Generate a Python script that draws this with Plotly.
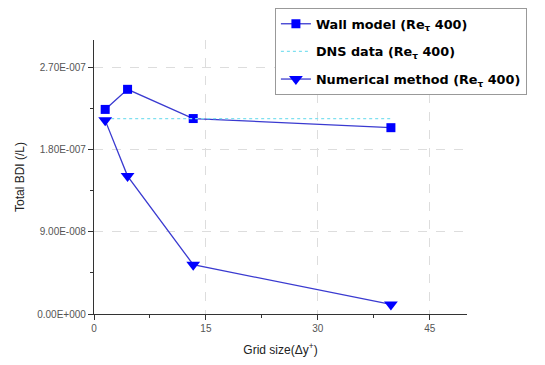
import plotly.graph_objects as go

grid_x = [1.5, 4.5, 13.3, 39.8]
wall_model = [2.24e-7, 2.46e-7, 2.14e-7, 2.04e-7]
numerical = [2.12e-7, 1.51e-7, 5.4e-8, 1.05e-8]
dns_x = [1.5, 39.8]
dns_y = [2.14e-7, 2.14e-7]

y_ticks = [0, 9e-8, 1.8e-7, 2.7e-7]
y_ticktext = ["0.00E+000", "9.00E-008", "1.80E-007", "2.70E-007"]
x_ticks = [0, 15, 30, 45]

fig = go.Figure()
fig.add_trace(go.Scatter(x=grid_x, y=wall_model, mode="lines+markers",
                         name="<b>Wall model (Re<sub>τ</sub> 400)</b>", legendgroup="a",
                         line=dict(color="#3a3ad0", width=1.3),
                         marker=dict(symbol="square", size=9, color="#0000ff")))
fig.add_trace(go.Scatter(x=dns_x, y=dns_y, mode="lines",
                         name="<b>DNS data (Re<sub>τ</sub> 400)</b>", legendgroup="b",
                         line=dict(color="#7fe0f0", width=1.2, dash="dot")))
fig.add_trace(go.Scatter(x=grid_x, y=numerical, mode="lines+markers",
                         name="<b>Numerical method (Re<sub>τ</sub> 400)</b>", legendgroup="c",
                         line=dict(color="#3a3ad0", width=1.3),
                         marker=dict(symbol="triangle-down", size=12, color="#0000ff")))

axis_common = dict(showline=True, linecolor="#333", linewidth=1.2, ticks="outside",
                   ticklen=5, tickcolor="#333", showgrid=True, gridcolor="#dddddd",
                   griddash="dash", gridwidth=1, zeroline=False, mirror=False,
                   tickfont=dict(family="Liberation Sans, Arial", size=10, color="#555"))

fig.update_layout(
    width=537, height=357,
    margin=dict(l=86, r=78, t=32, b=51, autoexpand=False),
    paper_bgcolor="white", plot_bgcolor="white",
    font=dict(family="Liberation Sans, Arial", color="#222"),
    xaxis=dict(range=[0, 50], tickvals=x_ticks,
               minor=dict(tickvals=[7.5, 22.5, 37.5], ticks="outside", ticklen=3, tickcolor="#333", showgrid=False),
               title=dict(text="Grid size(Δy<sup>+</sup>)", font=dict(size=12), standoff=12),
               **axis_common),
    yaxis=dict(range=[0, 3.0e-7], tickvals=y_ticks, ticktext=y_ticktext,
               minor=dict(tickvals=[4.5e-8, 1.35e-7, 2.25e-7], ticks="outside", ticklen=3, tickcolor="#333", showgrid=False),
               title=dict(text="Total BDI (/L)", font=dict(size=12), standoff=10),
               **axis_common),
    legend=dict(x=0.485, y=1.117, xanchor="left", yanchor="top",
                bordercolor="#999", borderwidth=1, bgcolor="white",
                font=dict(family="DejaVu Sans", size=12.8, color="#000"),
                tracegroupgap=8, itemwidth=30),
    showlegend=True,
)
fig.write_html("out.html")
